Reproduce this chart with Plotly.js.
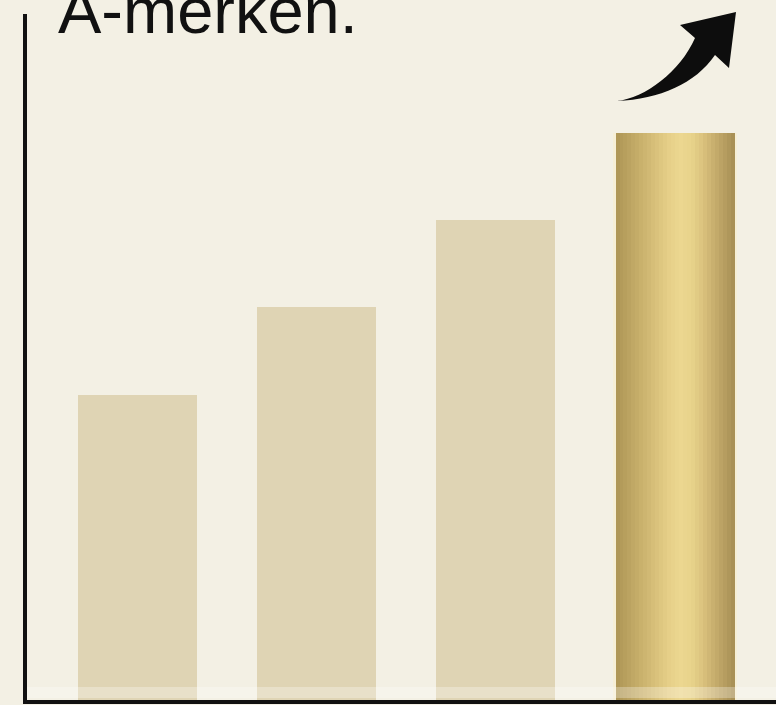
<!DOCTYPE html>
<html>
<head>
<meta charset="utf-8">
<script src="https://cdn.plot.ly/plotly-3.0.1.min.js"></script>
<style>html,body{margin:0;padding:0;background:#f3f0e4;}#chart{width:776px;height:705px;}</style>
</head>
<body>
<div id="chart"></div>
<script>
// ---- data ----
const categories = ['1', '2', '3', '4'];
const values = [35, 45, 55, 65];
const titleText = 'A-merken.';

// ---- styles ----
const W = 776, H = 705;
const M = {l: 27, r: 0, t: 14, b: 5};
const bg = '#f3f0e4';
const beige = '#dfd4b4';
const barWidth = 0.665;
const goldStops = ['#ad9556', '#b8a05e', '#c4ac68', '#d0b873', '#dcc47e', '#e6d089', '#ecd790', '#e8d38b', '#dbc37e', '#c9b06f', '#b79e61', '#a68e54'];

const traces = [];
traces.push({
  type: 'bar', x: categories.slice(0, 3), y: values.slice(0, 3),
  width: barWidth, marker: {color: beige, line: {width: 0}},
  hoverinfo: 'skip', showlegend: false
});
// soft glow behind the highlighted bar
traces.push({
  type: 'bar', x: [categories[3]], y: [values[3]],
  width: barWidth + 0.03, marker: {color: '#f6efd6', line: {width: 0}},
  hoverinfo: 'skip', showlegend: false
});
// highlighted gold bar, drawn as narrow strips for a metallic gradient
const N = 30;
const sw = barWidth / N;
function hex(c){return [1,3,5].map(i=>parseInt(c.substr(i,2),16));}
function mix(a,b,t){const A=hex(a),B=hex(b);return 'rgb('+A.map((v,i)=>Math.round(v+(B[i]-v)*t)).join(',')+')';}
for (let i = 0; i < N; i++) {
  const f = (i + 0.5) / N * (goldStops.length - 1);
  const k = Math.min(Math.floor(f), goldStops.length - 2);
  traces.push({
    type: 'bar', x: [categories[3]], y: [values[3]],
    width: sw * 1.15, offset: -barWidth / 2 + i * sw,
    marker: {color: mix(goldStops[k], goldStops[k + 1], f - k), line: {width: 0}},
    hoverinfo: 'skip', showlegend: false
  });
}

// arrow path in pixel coordinates -> paper coordinates
const pw = W - M.l - M.r, ph = H - M.t - M.b;
function P(x, y){return ((x - M.l) / pw).toFixed(5) + ',' + ((H - M.b - y) / ph).toFixed(5);}
const arrowPath = 'M' + P(617,101) + ' C' + P(645,98) + ' ' + P(680,72) + ' ' + P(695,38) + ' L' + P(680,25) +
  ' L' + P(736,12) + ' L' + P(729,68) + ' L' + P(715,55) + ' C' + P(695,84) + ' ' + P(660,99) + ' ' + P(617,101) + ' Z';

const layout = {
  width: W, height: H,
  margin: M,
  paper_bgcolor: bg, plot_bgcolor: bg,
  barmode: 'overlay',
  bargap: 0,
  showlegend: false,
  xaxis: {
    type: 'category', range: [-0.6166, 3.563], showticklabels: false, ticks: '',
    showgrid: false, zeroline: false, showline: true, linecolor: '#111', linewidth: 4, fixedrange: true
  },
  yaxis: {
    range: [0, 78.64], showticklabels: false, ticks: '',
    showgrid: false, zeroline: false, showline: true, linecolor: '#111', linewidth: 4, fixedrange: true
  },
  annotations: [{
    text: titleText, xref: 'paper', yref: 'paper',
    x: (56 - M.l) / pw, xanchor: 'left',
    y: (H - M.b + 28) / ph, yanchor: 'top',
    showarrow: false,
    font: {family: 'Liberation Sans, Arial, sans-serif', size: 65, color: '#111'}
  }],
  shapes: [{
    type: 'path', xref: 'paper', yref: 'paper', path: arrowPath,
    fillcolor: '#0d0d0d', line: {width: 0}, layer: 'above'
  }, {
    type: 'rect', xref: 'paper', yref: 'paper',
    x0: 0, x1: 1, y0: (H - M.b - 698) / ph, y1: (H - M.b - 687) / ph,
    fillcolor: 'rgba(255,255,255,0.28)', line: {width: 0}, layer: 'above'
  }]
};

Plotly.newPlot('chart', traces, layout, {displayModeBar: false, staticPlot: true});
</script>
</body>
</html>
